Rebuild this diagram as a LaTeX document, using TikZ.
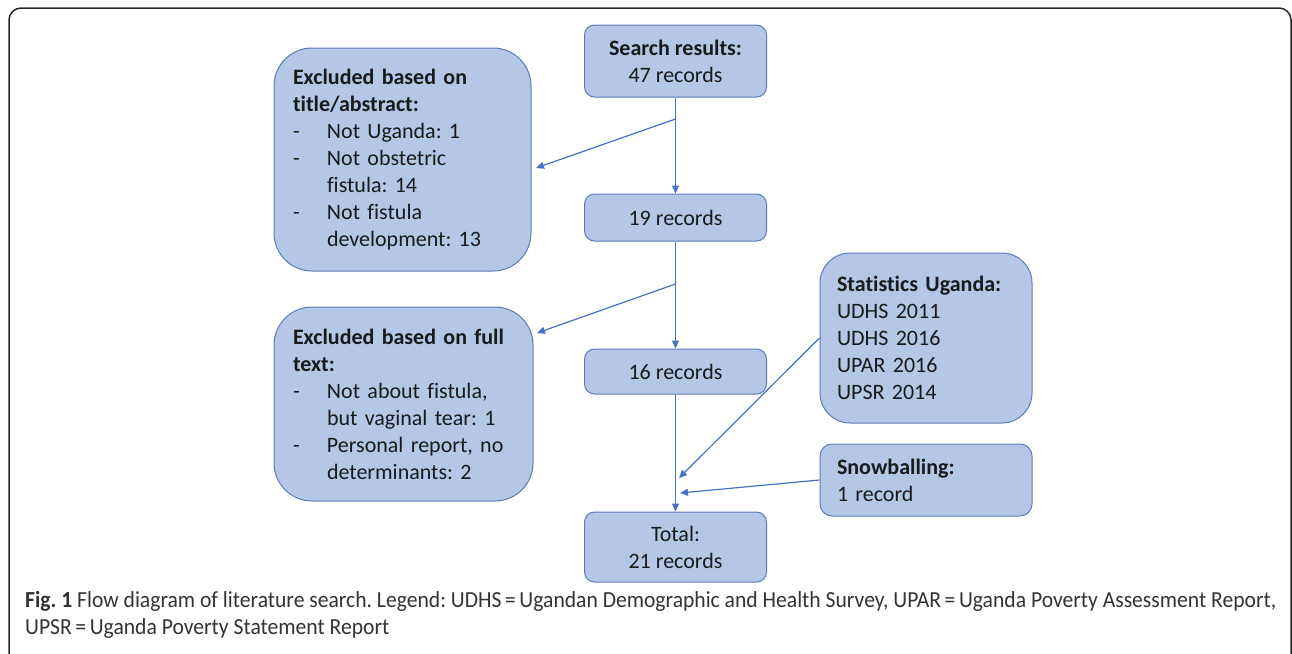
\documentclass[tikz,border=0pt]{standalone}
\usepackage{fontspec}
\setmainfont[Ligatures=NoCommon]{Carlito}
\usetikzlibrary{arrows.meta,calc}
\definecolor{boxfill}{HTML}{B4C7E7}
\definecolor{boxline}{HTML}{5B7DB5}
\definecolor{arrowc}{HTML}{4472C4}
\definecolor{captext}{HTML}{333333}
\definecolor{boxtext}{HTML}{1A1A1A}
\newdimen\capwa
\newsavebox\capboxa
\newcommand\dsh{\makebox[34pt][l]{-}}
\newcommand\ind{\hspace*{34pt}}
\newcommand\capfont{\fontsize{23}{27}\selectfont}
\newcommand\captionone{\textbf{Fig. 1} Flow diagram of literature search. Legend: UDHS\,=\,Ugandan Demographic and Health Survey, UPAR\,=\,Uganda Poverty Assessment Report,}
\newcommand\captiontwo{UPSR\,=\,Uganda Poverty Statement Report}
\tikzset{
  boxbase/.style={draw=boxline, fill=boxfill, line width=1pt, text=boxtext,
    font=\fontsize{22}{27}\selectfont, inner ysep=0pt},
  smallbox/.style={boxbase, rounded corners=10pt, align=center,
    minimum width=182pt, inner xsep=0pt},
  bigbox/.style={boxbase, rounded corners=38pt, align=left, inner xsep=19pt},
  sidebox/.style={boxbase, align=left, inner xsep=17pt, text width=178pt},
  conn/.style={draw=arrowc, line width=1.2pt, -{Triangle[length=8pt,width=7pt]}},
  frame/.style={draw=black!85, line width=1.5pt, rounded corners=12pt}
}
\begin{document}
\frenchspacing
\sbox\capboxa{\capfont\captionone}%
\global\capwa=\wd\capboxa
\edef\capscale{\fpeval{1251/(\capwa)}}%
\begin{tikzpicture}[x=1pt,y=-1pt]
\useasboundingbox (0,0) rectangle (1292,653);
\begin{scope}
\clip (0,0) rectangle (1292,653);
\draw[frame] (9,760) -- (9,8) -- (1291,8) -- (1291,760);
\end{scope}

% main column
\node[smallbox, minimum height=72pt] (search) at (675.5,61) {\textbf{Search results:}\\47 records};
\node[smallbox, minimum height=47pt] (n19) at (675.5,217.5) {19 records};
\node[smallbox, minimum height=45pt] (n16) at (675.5,371.5) {16 records};
\node[smallbox, minimum height=70pt] (total) at (675.5,547) {Total:\\21 records};

% exclusion boxes
\node[bigbox, text width=219pt, minimum height=223pt] (ex1) at (402.5,159.5)
  {\textbf{Excluded based on}\\
   \textbf{title/abstract:}\\
   \dsh Not Uganda: 1\\
   \dsh Not obstetric\\
   \ind fistula: 14\\
   \dsh Not fistula\\
   \ind development: 13};
\node[bigbox, text width=221pt, minimum height=194pt] (ex2) at (403.5,404)
  {\textbf{Excluded based on full}\\
   \textbf{text:}\\
   \dsh Not about fistula,\\
   \ind but vaginal tear: 1\\
   \dsh Personal report, no\\
   \ind determinants: 2};

% side sources
\node[sidebox, rounded corners=30pt, minimum height=170pt] (stats) at (926,338)
  {\textbf{Statistics Uganda:}\\
   UDHS 2011\\
   UDHS 2016\\
   UPAR 2016\\
   UPSR 2014};
\node[sidebox, rounded corners=12pt, minimum height=72pt] (snow) at (926,480)
  {\textbf{Snowballing:}\\1 record};

% connectors
\coordinate (b1) at (675.5,119);
\coordinate (t1) at (536,168);
\coordinate (b2) at (675.5,284);
\coordinate (t2) at (537,333);
\coordinate (t3) at (679,478);
\coordinate (t4) at (680,493);
\draw[conn] (search) -- (n19);
\draw[conn] (b1) -- (t1);
\draw[conn] (n19) -- (n16);
\draw[conn] (b2) -- (t2);
\draw[conn] (n16) -- (total);
\draw[conn] (stats.west) -- (t3);
\draw[conn] (snow.west) -- (t4);

% caption
\node[anchor=base west, inner sep=0pt, text=captext] (cap1) at (25,607)
  {\scalebox{\capscale}[1]{\capfont\captionone}};
\node[anchor=base west, inner sep=0pt, text=captext] (cap2) at (25,634)
  {\scalebox{\capscale}[1]{\capfont\captiontwo}};
\end{tikzpicture}
\end{document}
